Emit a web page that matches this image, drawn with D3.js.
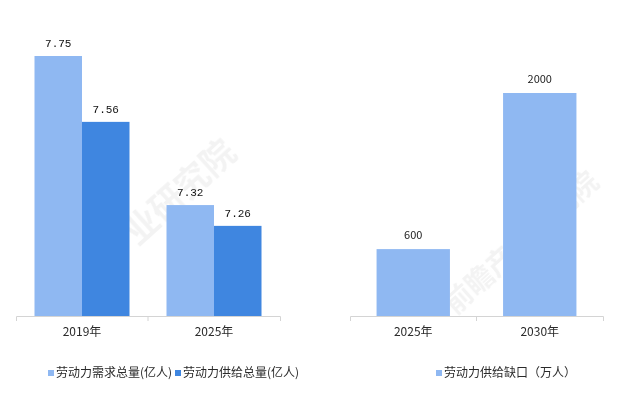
<!DOCTYPE html>
<html lang="zh">
<head>
<meta charset="UTF-8">
<title>劳动力供需</title>
<script src="https://cdnjs.cloudflare.com/ajax/libs/d3/7.8.5/d3.min.js"></script>
<style>
  body { margin: 0; background: #fff; }
  text { font-family: "Noto Sans CJK SC", "Noto Sans", sans-serif; fill: #333; }
  .val { font-family: "Liberation Mono", "DejaVu Sans Mono", monospace; font-size: 11px; fill: #111; }
  .val2 { font-size: 11px; fill: #222; }
  .axis path, .axis line { stroke: #d4d4d4; }
  .axis text { font-size: 12px; fill: #2a2a2a; }
  .legend text { font-size: 12px; fill: #2a2a2a; }
</style>
</head>
<body>
<div id="chart"></div>
<script>
// 数据
const leftCategories = ["2019年", "2025年"];
const demand = [7.75, 7.32];   // 劳动力需求总量(亿人)
const supply = [7.56, 7.26];   // 劳动力供给总量(亿人)
const leftSeries = ["劳动力需求总量(亿人)", "劳动力供给总量(亿人)"];

const rightCategories = ["2025年", "2030年"];
const gap = [600, 2000];       // 劳动力供给缺口(万人)
const rightSeries = ["劳动力供给缺口（万人）"];

const width = 624, height = 395;
const light = "#8fb8f2", dark = "#3f86e0";

const svg = d3.select("#chart").append("svg")
  .attr("width", width)
  .attr("height", height);

// 水印
const wm = svg.append("g").attr("opacity", 0.05);
[[150, 235, 34], [528, 250, 28]].forEach(p => {
  wm.append("text")
    .attr("transform", `translate(${p[0]},${p[1]}) rotate(-42)`)
    .attr("text-anchor", "middle")
    .style("font-size", p[2] + "px")
    .style("font-weight", "bold")
    .style("fill", "#000")
    .text("前瞻产业研究院");
});

const baseY = 316;

// ---- 左图 ----
const xL = d3.scaleBand().domain(leftCategories).range([16, 280]);
const xL1 = d3.scaleBand().domain(leftSeries).range([18.5, xL.bandwidth() - 18.5]);
const yL = d3.scaleLinear().domain([7, 7.75]).range([baseY, 56]);

const leftRows = leftCategories.map((c, i) => ({ cat: c, vals: [demand[i], supply[i]] }));
const colorL = d3.scaleOrdinal().domain(leftSeries).range([light, dark]);

const gL = svg.append("g");
const groups = gL.selectAll("g.grp").data(leftRows).join("g")
  .attr("transform", d => `translate(${xL(d.cat)},0)`);

groups.selectAll("rect")
  .data(d => d.vals.map((v, j) => ({ key: leftSeries[j], v })))
  .join("rect")
  .attr("x", d => xL1(d.key))
  .attr("width", xL1.bandwidth())
  .attr("y", d => yL(d.v))
  .attr("height", d => baseY - yL(d.v))
  .attr("fill", d => colorL(d.key));

groups.selectAll("text.val")
  .data(d => d.vals.map((v, j) => ({ key: leftSeries[j], v })))
  .join("text")
  .attr("class", "val")
  .attr("text-anchor", "middle")
  .attr("x", d => xL1(d.key) + xL1.bandwidth() / 2)
  .attr("y", d => yL(d.v) - 9)
  .text(d => d.v.toFixed(2));

const axL = svg.append("g").attr("class", "axis")
  .attr("transform", `translate(0,${baseY})`)
  .call(d3.axisBottom(xL).tickSizeInner(0).tickSizeOuter(5).tickPadding(11));
axL.selectAll(".tick line").remove();
axL.append("line")
  .attr("x1", xL(leftCategories[1])).attr("x2", xL(leftCategories[1]))
  .attr("y1", 0).attr("y2", 5);

// ---- 右图 ----
const xR = d3.scaleBand().domain(rightCategories).range([350, 603]);
const yR = d3.scaleLinear().domain([0, 2000]).range([baseY, 93]);
const barW = xR.bandwidth() * 0.58;

const gR = svg.append("g");
gR.selectAll("rect").data(gap).join("rect")
  .attr("x", (d, i) => xR(rightCategories[i]) + (xR.bandwidth() - barW) / 2)
  .attr("width", barW)
  .attr("y", d => yR(d))
  .attr("height", d => baseY - yR(d))
  .attr("fill", light);

gR.selectAll("text").data(gap).join("text")
  .attr("class", "val2")
  .attr("text-anchor", "middle")
  .attr("x", (d, i) => xR(rightCategories[i]) + xR.bandwidth() / 2)
  .attr("y", d => yR(d) - 10)
  .text(d => d);

const axR = svg.append("g").attr("class", "axis")
  .attr("transform", `translate(0,${baseY})`)
  .call(d3.axisBottom(xR).tickSizeInner(0).tickSizeOuter(5).tickPadding(11));
axR.selectAll(".tick line").remove();
axR.append("line")
  .attr("x1", xR(rightCategories[1])).attr("x2", xR(rightCategories[1]))
  .attr("y1", 0).attr("y2", 5);

// ---- 图例 ----
const legend = svg.append("g").attr("class", "legend");
const legItems = [
  { name: leftSeries[0], color: light, x: 48 },
  { name: leftSeries[1], color: dark, x: 175 },
  { name: rightSeries[0], color: light, x: 436 }
];
const li = legend.selectAll("g").data(legItems).join("g")
  .attr("transform", d => `translate(${d.x},373)`);
li.append("rect").attr("x", 0).attr("y", -3).attr("width", 6).attr("height", 6)
  .attr("fill", d => d.color);
li.append("text").attr("x", 8).attr("dy", "0.35em").text(d => d.name);
</script>
</body>
</html>
